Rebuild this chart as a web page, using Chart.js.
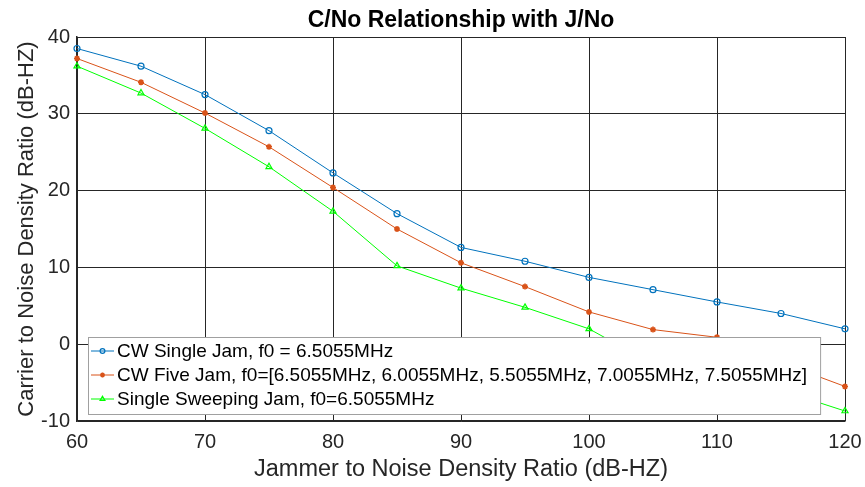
<!DOCTYPE html>
<html>
<head>
<meta charset="utf-8">
<script src="https://cdn.jsdelivr.net/npm/chart.js@4.4.1/dist/chart.umd.min.js"></script>
<style>
  html, body { margin: 0; padding: 0; background: #fff; }
</style>
</head>
<body>
<canvas id="chart" width="865" height="487"></canvas>
<script>
// values
const jnRatio = [60, 65, 70, 75, 80, 85, 90, 95, 100, 105, 110, 115, 120];
const cwSingle = [38.5, 36.2, 32.5, 27.8, 22.3, 17.0, 12.6, 10.8, 8.7, 7.1, 5.5, 4.0, 2.0];
const cwFive = [37.2, 34.1, 30.1, 25.7, 20.4, 15.0, 10.6, 7.5, 4.2, 1.9, 0.9, -2.4, -5.5];
const sweeping = [36.2, 32.7, 28.1, 23.1, 17.3, 10.2, 7.3, 4.8, 2.0, -2.6, -4.3, -6.0, -8.7];
const seriesNames = [
  "CW Single Jam, f0 = 6.5055MHz",
  "CW Five Jam, f0=[6.5055MHz, 6.0055MHz, 5.5055MHz, 7.0055MHz, 7.5055MHz]",
  "Single Sweeping Jam, f0=6.5055MHz"
];
const xTicks = [60, 70, 80, 90, 100, 110, 120];
const yTicks = [-10, 0, 10, 20, 30, 40];

const FONT = "'Liberation Sans', Arial, Helvetica, sans-serif";
const INK = "#262626";
Chart.defaults.font.family = FONT;
Chart.defaults.color = INK;

const toPoints = (ys) => ys.map((y, i) => ({ x: jnRatio[i], y }));

// title centred over the axes, like the original figure
const titlePlugin = {
  id: "axesTitle",
  afterDraw(chart) {
    const { ctx, chartArea } = chart;
    ctx.save();
    ctx.font = "bold 23px " + FONT;
    ctx.fillStyle = "#000";
    ctx.textAlign = "center";
    ctx.textBaseline = "middle";
    ctx.fillText("C/No Relationship with J/No", (chartArea.left + chartArea.right) / 2, 21);
    ctx.restore();
  }
};

// boxed legend sitting inside the plot, lower left
const boxLegend = {
  id: "boxLegend",
  afterDatasetsDraw(chart) {
    const { ctx, chartArea } = chart;
    const sets = chart.data.datasets;
    ctx.save();
    ctx.font = "19px " + FONT;
    let maxW = 0;
    sets.forEach((d) => { maxW = Math.max(maxW, ctx.measureText(d.label).width); });
    const rowH = 24;
    const h = 77;
    const x = chartArea.left + 11;
    const y = chartArea.bottom - 7 - h;
    const w = 29 + maxW + 13;
    ctx.fillStyle = "#fff";
    ctx.fillRect(x, y, w, h);
    ctx.strokeStyle = "#a0a0a0";
    ctx.lineWidth = 1;
    ctx.strokeRect(x + 0.5, y + 0.5, w, h);
    sets.forEach((d, i) => {
      const cy = y + 14 + i * rowH;
      ctx.strokeStyle = d.borderColor;
      ctx.lineWidth = 1;
      ctx.beginPath();
      ctx.moveTo(x + 3, cy);
      ctx.lineTo(x + 26, cy);
      ctx.stroke();
      ctx.fillStyle = d.pointBackgroundColor;
      ctx.strokeStyle = d.borderColor;
      ctx.lineWidth = d.pointBorderWidth;
      Chart.helpers.drawPoint(ctx, {
        pointStyle: d.pointStyle,
        radius: d.pointRadius * 0.8,
        rotation: 0,
        borderWidth: d.pointBorderWidth
      }, x + 14.5, cy);
      ctx.fillStyle = "#000";
      ctx.textAlign = "left";
      ctx.textBaseline = "middle";
      ctx.fillText(d.label, x + 29, cy + 1);
    });
    ctx.restore();
  }
};

new Chart(document.getElementById("chart"), {
  type: "line",
  data: {
    datasets: [
      {
        label: seriesNames[0],
        data: toPoints(cwSingle),
        borderColor: "#0072BD",
        borderWidth: 1,
        pointStyle: "circle",
        pointRadius: 3,
        pointBorderWidth: 1.2,
        pointBackgroundColor: "rgba(0,0,0,0)",
        clip: false
      },
      {
        label: seriesNames[1],
        data: toPoints(cwFive),
        borderColor: "#D95319",
        borderWidth: 1,
        pointStyle: "star",
        pointRadius: 3,
        pointBorderWidth: 1.6,
        pointBackgroundColor: "#D95319",
        clip: false
      },
      {
        label: seriesNames[2],
        data: toPoints(sweeping),
        borderColor: "#00FF00",
        borderWidth: 1,
        pointStyle: "triangle",
        pointRadius: 3.5,
        pointBorderWidth: 1.2,
        pointBackgroundColor: "rgba(0,0,0,0)",
        clip: false
      }
    ]
  },
  options: {
    responsive: false,
    animation: false,
    layout: { padding: { top: 37, right: 20, left: 0, bottom: 0 } },
    plugins: {
      legend: { display: false },
      title: { display: false },
      tooltip: { enabled: false }
    },
    scales: {
      x: {
        type: "linear",
        min: 60,
        max: 120,
        afterFit: (s) => { s.height = 66; s.paddingLeft = 0; s.paddingRight = 0; },
        afterBuildTicks: (s) => { s.ticks = xTicks.map((v) => ({ value: v })); },
        grid: { color: INK, lineWidth: 1, drawTicks: false },
        border: { color: INK, width: 1.5 },
        ticks: { font: { size: 20 }, color: INK, padding: 9, maxRotation: 0 },
        title: {
          display: true,
          text: "Jammer to Noise Density Ratio (dB-HZ)",
          font: { size: 23.5 },
          color: INK,
          padding: { top: 0, bottom: 3 }
        }
      },
      y: {
        min: -10,
        max: 40,
        afterFit: (s) => { s.width = 77; s.paddingTop = 0; s.paddingBottom = 0; },
        afterBuildTicks: (s) => { s.ticks = yTicks.map((v) => ({ value: v })); },
        grid: { color: INK, lineWidth: 1, drawTicks: false },
        border: { color: INK, width: 1.5 },
        ticks: { font: { size: 20 }, color: INK, padding: 7 },
        title: {
          display: true,
          text: "Carrier to Noise Density Ratio (dB-HZ)",
          font: { size: 22 },
          color: INK,
          padding: { top: 14, bottom: 0 }
        }
      }
    }
  },
  plugins: [boxLegend, titlePlugin]
});
</script>
</body>
</html>
